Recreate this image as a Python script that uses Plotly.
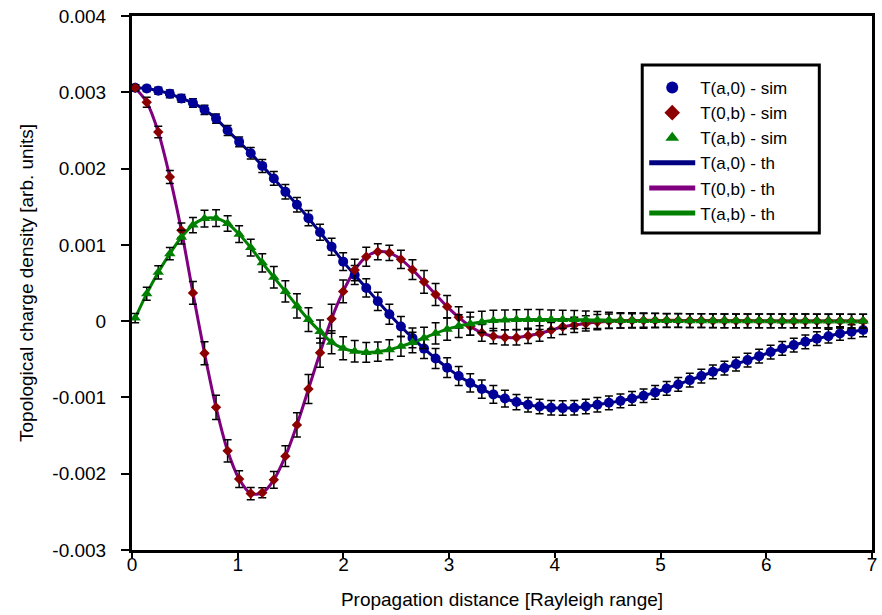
import numpy as np
import plotly.graph_objects as go

# ---- data (values in units of 1e-3 arb. units) ----
n_points = 64
x_start = 0.03
x_step = 0.1093
z = x_start + x_step * np.arange(n_points)

T_a0 = [3.06, 3.05, 3.02, 2.98, 2.92, 2.86, 2.77, 2.655, 2.50, 2.35,
        2.20, 2.035, 1.87, 1.695, 1.525, 1.35, 1.165, 0.975, 0.78, 0.605,
        0.435, 0.26, 0.09, -0.07, -0.22, -0.36, -0.49, -0.61, -0.72, -0.81,
        -0.89, -0.96, -1.015, -1.06, -1.095, -1.12, -1.135, -1.14, -1.135, -1.12,
        -1.095, -1.07, -1.045, -1.013, -0.978, -0.934, -0.882, -0.830, -0.773, -0.720,
        -0.664, -0.615, -0.563, -0.511, -0.459, -0.405, -0.358, -0.314, -0.271, -0.230,
        -0.197, -0.162, -0.138, -0.115]
T_0b = [3.06, 2.87, 2.48, 1.89, 1.19, 0.37, -0.42, -1.13, -1.70, -2.07,
        -2.26, -2.25, -2.08, -1.77, -1.36, -0.89, -0.415, 0.03, 0.39, 0.67,
        0.845, 0.91, 0.895, 0.81, 0.675, 0.515, 0.35, 0.19, 0.05, -0.066,
        -0.153, -0.197, -0.214, -0.214, -0.192, -0.162, -0.118, -0.074, -0.05, -0.03,
        -0.012, 0.0, 0.005, 0.008, 0.01, 0.01, 0.01, 0.01, 0.008, 0.008,
        0.006, 0.005, 0.004, 0.004, 0.003, 0.003, 0.002, 0.002, 0.002, 0.001,
        0.001, 0.001, 0.0, 0.0]
T_ab = [0.04, 0.36, 0.64, 0.885, 1.10, 1.26, 1.345, 1.35, 1.28, 1.14,
        0.965, 0.765, 0.575, 0.39, 0.20, 0.02, -0.135, -0.277, -0.356, -0.395,
        -0.41, -0.40, -0.375, -0.33, -0.28, -0.22, -0.16, -0.105, -0.065, -0.035,
        -0.01, 0.008, 0.016, 0.02, 0.022, 0.022, 0.022, 0.022, 0.02, 0.018,
        0.015, 0.012, 0.01, 0.009, 0.008, 0.008, 0.007, 0.007, 0.006, 0.006,
        0.005, 0.005, 0.005, 0.004, 0.004, 0.004, 0.003, 0.003, 0.003, 0.002,
        0.002, 0.002, 0.001, 0.001]

err_a0 = [0.04, 0.04, 0.045, 0.05, 0.05, 0.055, 0.06, 0.06, 0.065, 0.065,
          0.075, 0.085, 0.09, 0.095, 0.095, 0.10, 0.105, 0.11, 0.115, 0.125,
          0.12, 0.12, 0.13, 0.13, 0.13, 0.13, 0.13, 0.13, 0.125, 0.12,
          0.12, 0.115, 0.11, 0.10, 0.095, 0.095, 0.095, 0.095, 0.095, 0.095,
          0.095, 0.09, 0.09, 0.09, 0.09, 0.09, 0.09, 0.09, 0.09, 0.09,
          0.09, 0.09, 0.09, 0.09, 0.09, 0.09, 0.09, 0.09, 0.09, 0.09,
          0.09, 0.09, 0.09, 0.09]
err_0b = [0.04, 0.065, 0.075, 0.085, 0.095, 0.15, 0.15, 0.16, 0.145, 0.11,
          0.08, 0.065, 0.11, 0.135, 0.16, 0.19, 0.19, 0.19, 0.15, 0.14,
          0.125, 0.105, 0.10, 0.12, 0.13, 0.15, 0.145, 0.145, 0.14, 0.12,
          0.11, 0.10, 0.10, 0.10, 0.10, 0.10, 0.10, 0.10, 0.10, 0.10,
          0.10, 0.095, 0.095, 0.09, 0.09, 0.09, 0.09, 0.09, 0.09, 0.09,
          0.09, 0.09, 0.09, 0.09, 0.09, 0.09, 0.09, 0.09, 0.09, 0.09,
          0.09, 0.09, 0.09, 0.09]
err_ab = [0.06, 0.085, 0.087, 0.08, 0.09, 0.10, 0.11, 0.11, 0.10, 0.11,
          0.11, 0.12, 0.14, 0.14, 0.16, 0.155, 0.15, 0.15, 0.15, 0.14,
          0.13, 0.125, 0.13, 0.13, 0.135, 0.14, 0.14, 0.145, 0.15, 0.15,
          0.14, 0.135, 0.13, 0.13, 0.13, 0.13, 0.125, 0.12, 0.12, 0.115,
          0.11, 0.105, 0.10, 0.10, 0.10, 0.095, 0.09, 0.09, 0.09, 0.09,
          0.09, 0.09, 0.09, 0.09, 0.09, 0.09, 0.09, 0.09, 0.09, 0.09,
          0.09, 0.09, 0.09, 0.09]

y_tick_vals = [-0.003, -0.002, -0.001, 0, 0.001, 0.002, 0.003, 0.004]
y_tick_text = ["-0.003", "-0.002", "-0.001", "0", "0.001", "0.002", "0.003", "0.004"]

sim_names = ["T(a,0) - sim", "T(0,b) - sim", "T(a,b) - sim"]
th_names = ["T(a,0) - th", "T(0,b) - th", "T(a,b) - th"]

scale = 1e-3
series = [np.array(T_a0) * scale, np.array(T_0b) * scale, np.array(T_ab) * scale]
errors = [np.array(err_a0) * scale, np.array(err_0b) * scale, np.array(err_ab) * scale]

marker_colors = ["#000099", "#8B0000", "#008000"]
marker_symbols = ["circle", "diamond", "triangle-up"]
marker_sizes = [10, 8, 10]
line_colors = ["#000080", "#800080", "#008000"]

FONT = "Liberation Sans, Arial, sans-serif"

fig = go.Figure()

# theory curves (drawn first, beneath the simulation markers)
for k in range(3):
    fig.add_trace(go.Scatter(
        x=z, y=series[k], mode="lines", name=th_names[k],
        line=dict(color=line_colors[k], width=3, shape="spline", smoothing=0.8),
        legendrank=4 + k,
    ))

# simulation points with error bars
for k in range(3):
    fig.add_trace(go.Scatter(
        x=z, y=series[k], mode="markers", name=sim_names[k],
        marker=dict(color=marker_colors[k], symbol=marker_symbols[k], size=marker_sizes[k],
                    line=dict(width=0)),
        error_y=dict(type="data", array=errors[k], color="black", thickness=1.5, width=4),
        legendrank=1 + k,
    ))

axis_common = dict(
    showgrid=False, zeroline=False, showline=True, linecolor="black", linewidth=3,
    mirror=True, ticks="outside", tickwidth=2, tickcolor="black",
    tickfont=dict(family=FONT, size=19, color="black"),
)

# legend frame drawn as a shape (paper coordinates)
fig.add_shape(type="rect", xref="paper", yref="paper",
              x0=0.6895, x1=0.9288, y0=0.5936, y1=0.9082,
              line=dict(color="black", width=3), fillcolor="white", layer="above")

fig.update_layout(
    width=882, height=615,
    margin=dict(l=132, r=5, t=16, b=65),
    paper_bgcolor="white", plot_bgcolor="white",
    font=dict(family=FONT, color="black"),
    xaxis=dict(range=[0, 7], dtick=1, tick0=0, ticklen=5, ticklabelstandoff=-10,
               title=dict(text="Propagation distance [Rayleigh range]",
                          font=dict(family=FONT, size=19, color="black"), standoff=19),
               **axis_common),
    yaxis=dict(range=[-0.003, 0.004], tickmode="array", tickvals=y_tick_vals, ticktext=y_tick_text,
               ticklen=8, ticklabelstandoff=11,
               title=dict(text="Topological charge density [arb. units]",
                          font=dict(family=FONT, size=19, color="black"), standoff=14),
               **axis_common),
    legend=dict(x=0.6922, y=0.8989, xanchor="left", yanchor="top",
                bgcolor="rgba(0,0,0,0)", borderwidth=0,
                font=dict(family=FONT, size=17, color="black"),
                itemsizing="constant", itemwidth=46),
    showlegend=True,
)

fig.write_html("out.html")
